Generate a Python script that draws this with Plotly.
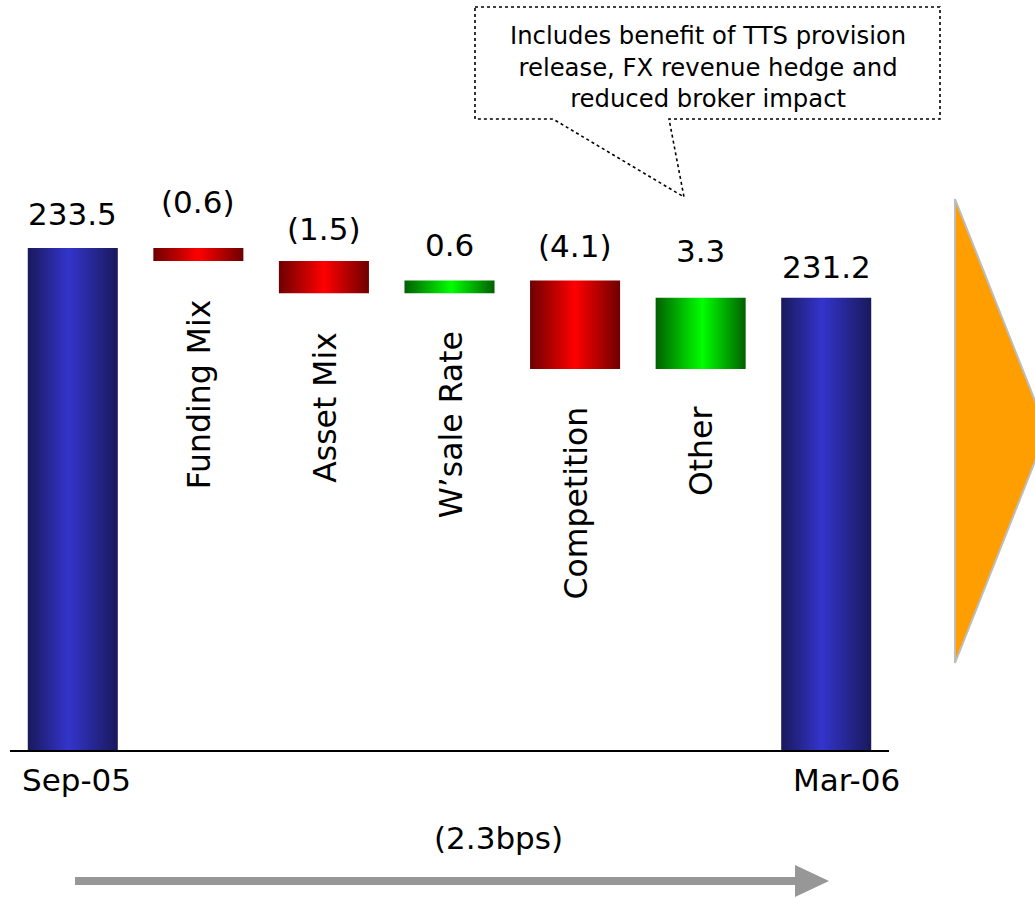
import plotly.graph_objects as go

# ---- data -------------------------------------------------------------
start_label = "Sep-05"
end_label = "Mar-06"
start_value = 233.5
end_value = 231.2
driver_names = ["Funding Mix", "Asset Mix", "W\u2019sale Rate", "Competition", "Other"]
driver_deltas = [-0.6, -1.5, 0.6, -4.1, 3.3]
total_change_text = "(2.3bps)"
callout_text = "Includes benefit of TTS provision<br>release, FX revenue hedge and<br>reduced broker impact"

# ---- styling ----------------------------------------------------------
FONT = "DejaVu Sans"
BAR_WIDTH = 0.717
Y_RANGE = [210.26, 240.35]
W, H = 1035, 898
M_L, M_R, M_T, M_B = 10, 146, 100, 148
value_lift = [14, 26, 12, 15, 14, 27, 11]   # px gap above each bar for its value label

GRAD_BLUE = [[0, "#19195c"], [0.45, "#3434cc"], [1, "#19195c"]]
GRAD_RED = [[0, "#6e0000"], [0.5, "#ff0000"], [1, "#6e0000"]]
GRAD_GREEN = [[0, "#006000"], [0.52, "#00ff00"], [1, "#006000"]]

plot_w = W - M_L - M_R
plot_h = H - M_T - M_B


def px_x(p):
    return (p - M_L) / plot_w


def px_y(p):
    return (H - M_B - p) / plot_h


def fmt(v):
    return f"({abs(v):.1f})" if v < 0 else f"{v:.1f}"


# ---- waterfall segments -----------------------------------------------
segments = []  # (x, low, high, value, gradient)
segments.append((0, Y_RANGE[0], start_value, start_value, GRAD_BLUE))
level = start_value
for i, d in enumerate(driver_deltas, start=1):
    new_level = level + d
    segments.append((i, min(level, new_level), max(level, new_level), d,
                     GRAD_RED if d < 0 else GRAD_GREEN))
    level = new_level
segments.append((len(driver_deltas) + 1, Y_RANGE[0], end_value, end_value, GRAD_BLUE))

fig = go.Figure()
annotations = []
for k, (xc, lo, hi, val, grad) in enumerate(segments):
    x0, x1 = xc - BAR_WIDTH / 2, xc + BAR_WIDTH / 2
    fig.add_trace(go.Scatter(
        x=[x0, x1, x1, x0, x0], y=[lo, lo, hi, hi, lo],
        mode="lines", fill="toself", line=dict(width=0, color="rgba(0,0,0,0)"),
        fillgradient=dict(type="horizontal", colorscale=grad),
        hoverinfo="skip", showlegend=False,
    ))
    annotations.append(dict(
        x=xc, y=hi, xref="x", yref="y", text=fmt(val), showarrow=False,
        yanchor="bottom", xanchor="center", yshift=value_lift[k],
        font=dict(family=FONT, size=31, color="#000000"),
    ))
    if 0 < k < len(segments) - 1:
        annotations.append(dict(
            x=xc, y=lo, xref="x", yref="y", text=driver_names[k - 1], showarrow=False,
            textangle=-90, yanchor="top", xanchor="center", yshift=-36, xshift=1,
            font=dict(family=FONT, size=31.5, color="#000000"),
        ))

# period labels under the axis
annotations.append(dict(x=0, y=0, xref="x", yref="paper", text=start_label, showarrow=False,
                        yanchor="top", xanchor="center", yshift=-10, xshift=4,
                        font=dict(family=FONT, size=31, color="#000000")))
annotations.append(dict(x=len(segments) - 1, y=0, xref="x", yref="paper", text=end_label,
                        showarrow=False, yanchor="top", xanchor="center", yshift=-10, xshift=20,
                        font=dict(family=FONT, size=31, color="#000000")))

# total change note over the bottom arrow
annotations.append(dict(x=px_x(499), y=px_y(838), xref="paper", yref="paper",
                        text=total_change_text, showarrow=False,
                        xanchor="center", yanchor="middle",
                        font=dict(family=FONT, size=31, color="#000000")))

# callout text
annotations.append(dict(x=px_x(708), y=px_y(67), xref="paper", yref="paper",
                        text=callout_text, showarrow=False,
                        xanchor="center", yanchor="middle",
                        font=dict(family=FONT, size=24.3, color="#000000")))


def path(points):
    return "M " + " L ".join(f"{px_x(a):.5f},{px_y(b):.5f}" for a, b in points) + " Z"


shapes = [
    # callout balloon
    dict(type="path", xref="paper", yref="paper",
         path=path([(475, 7), (940, 7), (940, 119), (669, 119), (684, 197),
                    (553, 119), (475, 119)]),
         line=dict(color="#000000", width=1.6, dash="dot"), fillcolor="rgba(255,255,255,0)"),
    # orange chevron on the right
    dict(type="path", xref="paper", yref="paper",
         path=path([(955, 199), (1047, 431), (955, 663)]),
         line=dict(color="#bdbdbd", width=2), fillcolor="#ff9e00"),
    # bottom arrow shaft and head
    dict(type="line", xref="paper", yref="paper",
         x0=px_x(75), y0=px_y(881), x1=px_x(797), y1=px_y(881),
         line=dict(color="#979797", width=8)),
    dict(type="path", xref="paper", yref="paper",
         path=path([(795, 865), (829, 881), (795, 897)]),
         line=dict(color="#979797", width=0), fillcolor="#979797"),
]

fig.update_layout(
    width=W, height=H,
    margin=dict(l=M_L, r=M_R, t=M_T, b=M_B, pad=0),
    paper_bgcolor="#ffffff", plot_bgcolor="#ffffff",
    xaxis=dict(range=[-0.5, len(segments) - 0.5], showgrid=False, zeroline=False,
               showticklabels=False, ticks="", showline=True, linecolor="#000000",
               linewidth=2, fixedrange=True),
    yaxis=dict(range=Y_RANGE, showgrid=False, zeroline=False, showticklabels=False,
               ticks="", showline=False, fixedrange=True),
    annotations=annotations,
    shapes=shapes,
    showlegend=False,
)

fig.write_html("out.html")
